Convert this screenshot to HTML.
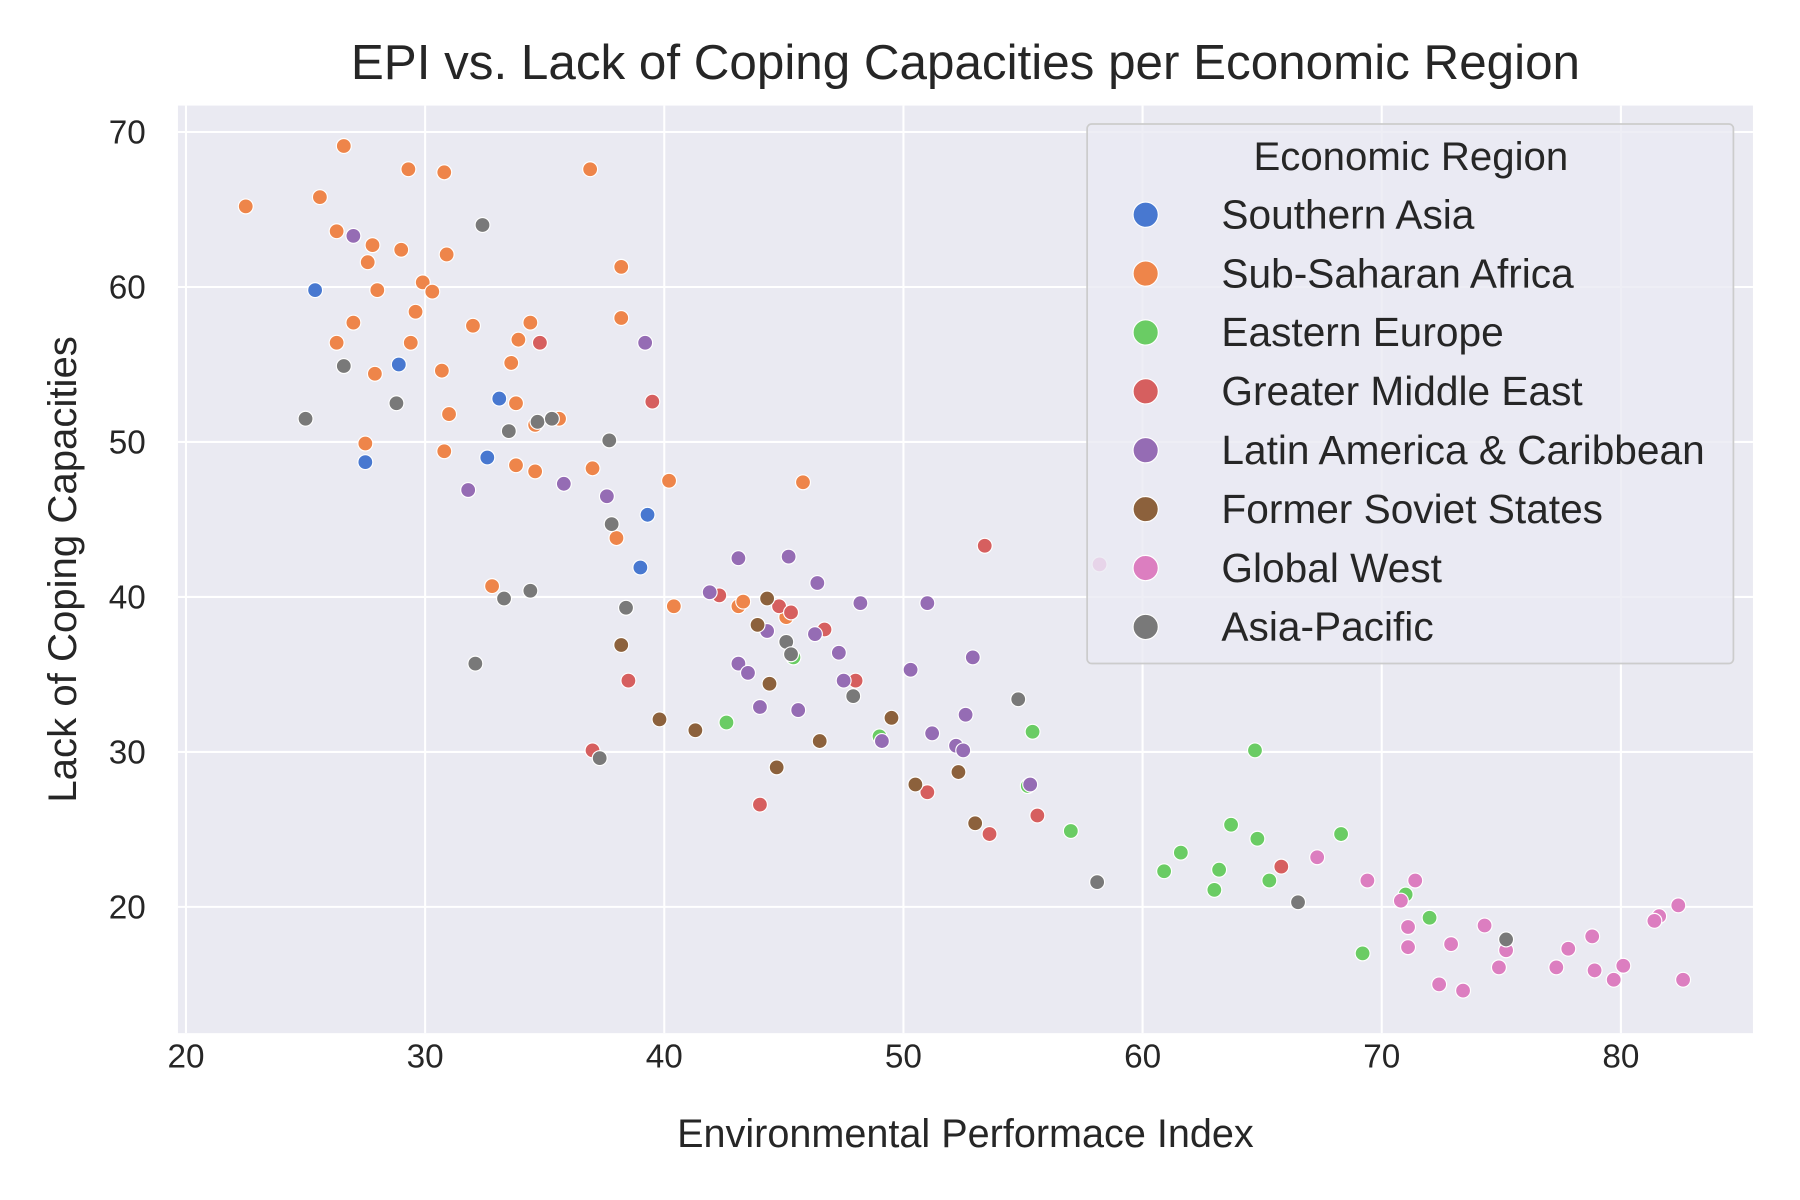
<!DOCTYPE html>
<html><head><meta charset="utf-8"><style>
html,body{margin:0;padding:0;background:#fff}
svg{display:block;font-family:"Liberation Sans",Arial,sans-serif}
</style></head><body>
<svg id="chart" width="1800" height="1200" viewBox="0 0 1568 1045.33" xmlns="http://www.w3.org/2000/svg">
<rect x="0" y="0" width="1568" height="1046" fill="#fff"/>
<rect x="155" y="92" width="1372" height="808" fill="#eaeaf2"/>
<g id="grid"></g>
<g id="ticks"></g>
<g id="points"></g>
<text x="841" y="69" font-size="43" text-anchor="middle" fill="#262626">EPI vs. Lack of Coping Capacities per Economic Region</text>
<text x="841" y="999" font-size="34.5" text-anchor="middle" fill="#262626">Environmental Performace Index</text>
<text transform="translate(66,496) rotate(-90)" font-size="35" text-anchor="middle" fill="#262626">Lack of Coping Capacities</text>
<g id="legend"></g>
</svg>
<script>
const NS="http://www.w3.org/2000/svg";
const regions=["Southern Asia","Sub-Saharan Africa","Eastern Europe","Greater Middle East","Latin America & Caribbean","Former Soviet States","Global West","Asia-Pacific"];
const colors=["#4878d0","#ee854a","#6acc64","#d65f5f","#956cb4","#8c613c","#dc7ec0","#797979"];
const xTicks=[20,30,40,50,60,70,80];
const yTicks=[20,30,40,50,60,70];
const southernAsia=[[25.4,59.8],[28.9,55.0],[33.1,52.8],[32.6,49.0],[27.5,48.7],[39.3,45.3],[39.0,41.9]];
const subSaharanAfrica=[[22.5,65.2],[26.6,69.1],[25.6,65.8],[29.3,67.6],[30.8,67.4],[36.9,67.6],[26.3,63.6],[27.8,62.7],[27.6,61.6],[29.0,62.4],[30.9,62.1],[38.2,61.3],[29.9,60.3],[30.3,59.7],[28.0,59.8],[29.6,58.4],[27.0,57.7],[32.0,57.5],[34.4,57.7],[38.2,58.0],[26.3,56.4],[29.4,56.4],[33.9,56.6],[27.9,54.4],[30.7,54.6],[33.6,55.1],[33.8,52.5],[31.0,51.8],[35.6,51.5],[34.6,51.1],[27.5,49.9],[30.8,49.4],[33.8,48.5],[34.6,48.1],[37.0,48.3],[40.2,47.5],[45.8,47.4],[38.0,43.8],[32.8,40.7],[40.4,39.4],[43.1,39.4],[43.3,39.7],[45.1,38.7]];
const easternEurope=[[45.4,36.1],[42.6,31.9],[49.0,31.0],[55.4,31.3],[55.2,27.8],[64.7,30.1],[57.0,24.9],[63.7,25.3],[64.8,24.4],[68.3,24.7],[61.6,23.5],[63.2,22.4],[60.9,22.3],[65.3,21.7],[63.0,21.1],[71.0,20.8],[72.0,19.3],[69.2,17.0]];
const greaterMiddleEast=[[34.8,56.4],[39.5,52.6],[53.4,43.3],[42.3,40.1],[44.8,39.4],[45.3,39.0],[46.7,37.9],[38.5,34.6],[48.0,34.6],[37.0,30.1],[51.0,27.4],[44.0,26.6],[55.6,25.9],[53.6,24.7],[65.8,22.6]];
const latinAmerica=[[27.0,63.3],[39.2,56.4],[31.8,46.9],[35.8,47.3],[37.6,46.5],[43.1,42.5],[45.2,42.6],[46.4,40.9],[41.9,40.3],[48.2,39.6],[51.0,39.6],[44.3,37.8],[46.3,37.6],[47.3,36.4],[52.9,36.1],[43.1,35.7],[43.5,35.1],[50.3,35.3],[47.5,34.6],[44.0,32.9],[45.6,32.7],[52.6,32.4],[51.2,31.2],[52.2,30.4],[52.5,30.1],[49.1,30.7],[55.3,27.9]];
const formerSoviet=[[44.3,39.9],[43.9,38.2],[38.2,36.9],[44.4,34.4],[39.8,32.1],[41.3,31.4],[49.5,32.2],[46.5,30.7],[44.7,29.0],[50.5,27.9],[52.3,28.7],[53.0,25.4]];
const globalWest=[[58.2,42.1],[67.3,23.2],[69.4,21.7],[71.4,21.7],[70.8,20.4],[71.1,18.7],[74.3,18.8],[82.4,20.1],[81.6,19.4],[81.4,19.1],[78.8,18.1],[71.1,17.4],[72.9,17.6],[75.2,17.2],[77.8,17.3],[74.9,16.1],[77.3,16.1],[78.9,15.9],[80.1,16.2],[79.7,15.3],[82.6,15.3],[72.4,15.0],[73.4,14.6]];
const asiaPacific=[[32.4,64.0],[26.6,54.9],[25.0,51.5],[28.8,52.5],[33.5,50.7],[34.7,51.3],[35.3,51.5],[37.7,50.1],[37.8,44.7],[34.4,40.4],[33.3,39.9],[38.4,39.3],[32.1,35.7],[45.1,37.1],[45.3,36.3],[47.9,33.6],[54.8,33.4],[37.3,29.6],[58.1,21.6],[66.5,20.3],[75.2,17.9]];
const series=[southernAsia,subSaharanAfrica,easternEurope,greaterMiddleEast,latinAmerica,formerSoviet,globalWest,asiaPacific];

const X0=155,X1=1527,Y0=92,Y1=900;
function sx(v){return 162+(v-20)*20.833;}
function sy(v){return 115+(70-v)*13.5;}
function mk(tag,attrs,parent){const e=document.createElementNS(NS,tag);for(const k in attrs)e.setAttribute(k,attrs[k]);parent.appendChild(e);return e;}

const grid=document.getElementById('grid'),ticks=document.getElementById('ticks');
xTicks.forEach(t=>{
  const l=mk('line',{x1:sx(t),x2:sx(t),y1:Y0,y2:Y1,stroke:'#fff','stroke-width':1.8},grid);
  
  
  const tx=mk('text',{x:sx(t),y:Y1+30,'font-size':29,'text-anchor':'middle',fill:'#262626'},ticks);
  tx.textContent=t;
  
  
});
yTicks.forEach(t=>{
  const l=mk('line',{x1:X0,x2:X1,y1:sy(t),y2:sy(t),stroke:'#fff','stroke-width':1.8},grid);
  
  
  const tx=mk('text',{x:127,y:sy(t)+10,'font-size':29,'text-anchor':'end',fill:'#262626'},ticks);
  tx.textContent=t;
  
  
});
const pts=document.getElementById('points');
series.forEach((s,i)=>{
  s.forEach(p=>{
    const c=mk('circle',{cx:sx(p[0]),cy:sy(p[1]),r:6.5,fill:colors[i],stroke:'#fff','stroke-width':1},pts);
    
    
  });
});
const lg=document.getElementById('legend');
const box=mk('rect',{x:947,y:108,width:563,height:470,rx:4,fill:'#eaeaf2','fill-opacity':0.8,stroke:'#cccccc','stroke-width':1.5},lg);


const lt=mk('text',{x:1229,y:148,'font-size':35,'text-anchor':'middle',fill:'#262626'},lg);
lt.textContent='Economic Region';


regions.forEach((r,i)=>{
  const y=187+i*51.3;
  const g=mk('g',{},lg);
  
  
  mk('circle',{cx:998,cy:y,r:11,fill:colors[i],stroke:'#fff','stroke-width':1},g);
  const t=mk('text',{x:1064,y:y+12,'font-size':35.4,fill:'#262626'},g);
  t.textContent=r;
});
</script>
</body></html>
